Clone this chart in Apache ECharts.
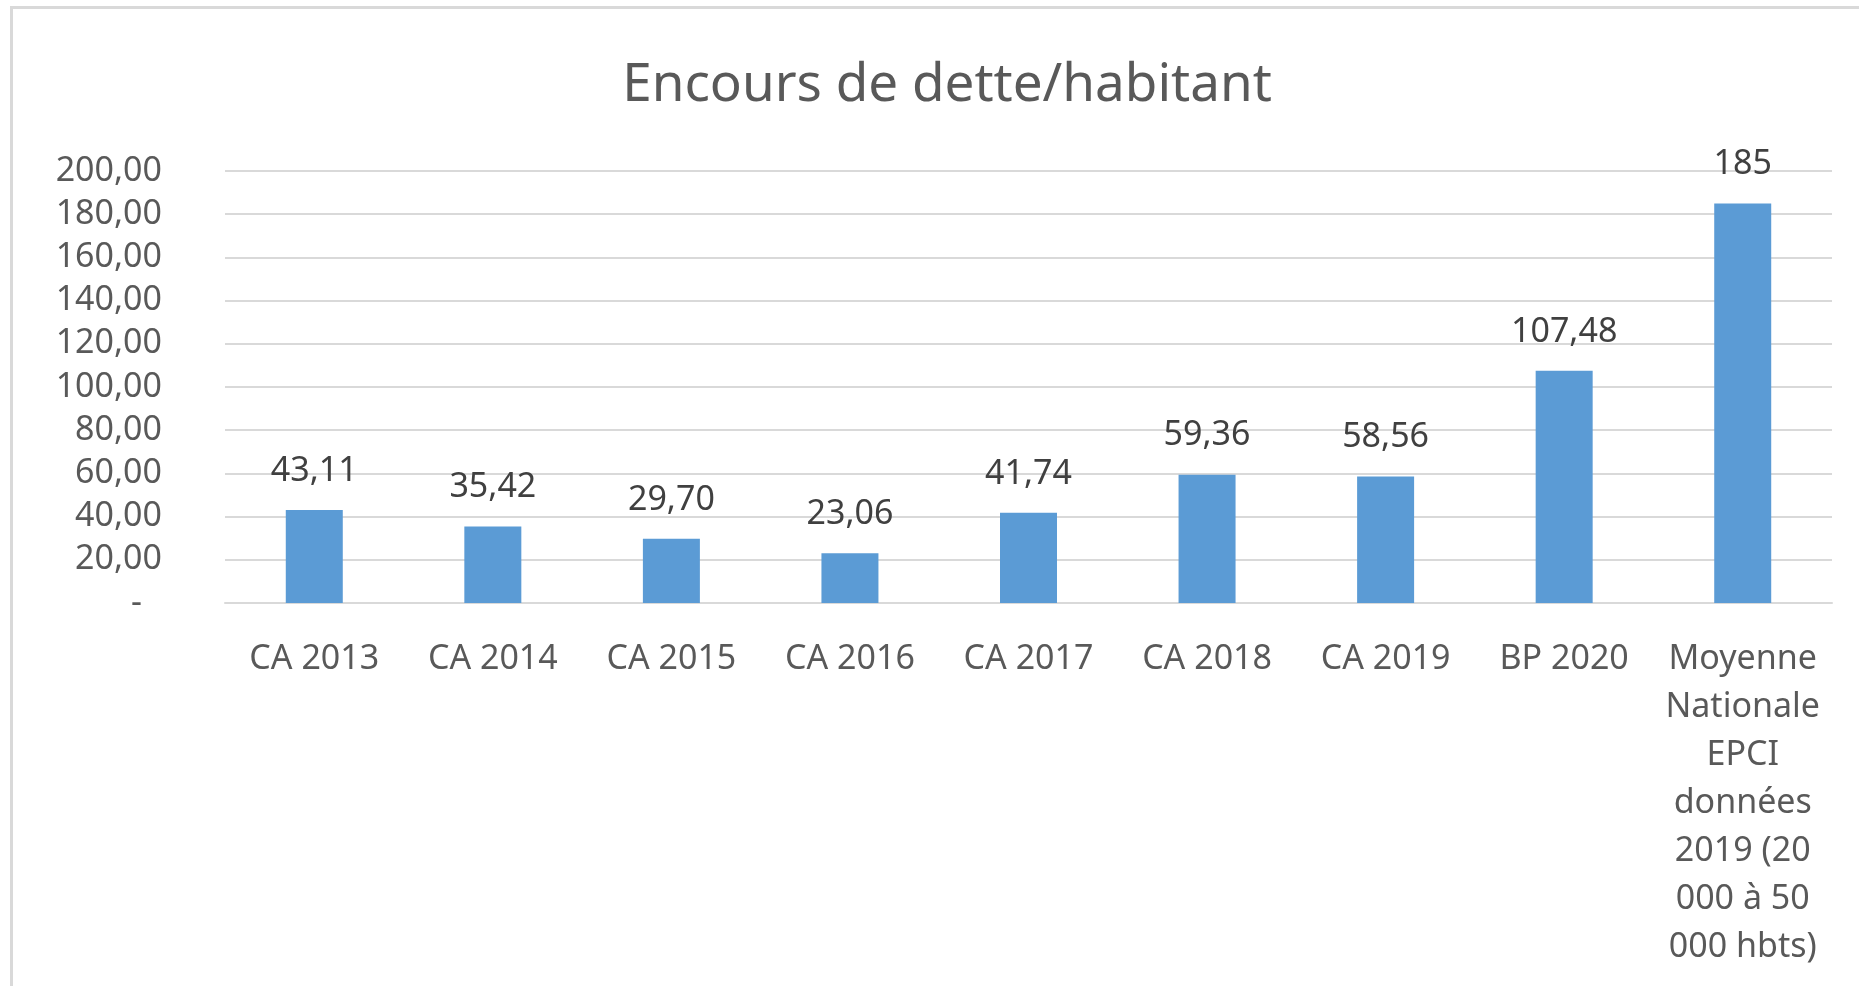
<!DOCTYPE html>
<html>
<head>
<meta charset="utf-8">
<script src="https://cdn.jsdelivr.net/npm/echarts@6/dist/echarts.min.js"></script>
<style>
  html, body { margin: 0; padding: 0; background: #fff; overflow: hidden; }
  #frame { position: absolute; left: 10px; top: 6px; width: 1900px; height: 1000px; border: 3px solid #d9d9d9; }
  #main { position: absolute; left: 0; top: 0; width: 1859px; height: 986px; }
</style>
</head>
<body>
<div id="frame"></div>
<div id="main"></div>
<script>
// categories (x axis)
var categories = ['CA 2013', 'CA 2014', 'CA 2015', 'CA 2016', 'CA 2017', 'CA 2018', 'CA 2019', 'BP 2020',
  'Moyenne\nNationale\nEPCI\ndonnées\n2019 (20\n000 à 50\n000 hbts)'];
// encours de dette par habitant
var encours = [43.11, 35.42, 29.70, 23.06, 41.74, 59.36, 58.56, 107.48, 185];

var chartTitle = 'Encours de dette/habitant';
var police = '"Noto Sans", sans-serif';

// format français : 43,11 / 185 / - pour zéro
function fr(v) {
  if (Number.isInteger(v)) return String(v);
  return v.toFixed(2).replace('.', ',');
}

var myChart = echarts.init(document.getElementById('main'));
var option = {
  backgroundColor: 'transparent',
  animation: false,
  title: {
    text: chartTitle,
    left: 942,
    top: 54,
    textAlign: 'center',
    textStyle: { fontFamily: police, fontSize: 53, fontWeight: 'normal', color: '#595959' }
  },
  grid: { left: 225, right: 27, top: 171, bottom: 383 },
  xAxis: {
    type: 'category',
    data: categories,
    axisLine: { lineStyle: { color: '#d9d9d9', width: 2 } },
    axisTick: { show: false },
    axisLabel: {
      interval: 0,
      margin: 32,
      fontFamily: police,
      fontSize: 34,
      lineHeight: 48,
      color: '#595959'
    }
  },
  yAxis: {
    type: 'value',
    min: 0,
    max: 200,
    interval: 20,
    axisLine: { show: false },
    axisTick: { show: false },
    splitLine: { lineStyle: { color: '#d9d9d9', width: 2 } },
    axisLabel: {
      margin: 63,
      fontFamily: police,
      fontSize: 34,
      color: '#595959',
      formatter: function (v) {
        if (v === 0) return '{z|-}';
        return v.toFixed(2).replace('.', ',');
      },
      rich: {
        z: { fontFamily: police, fontSize: 34, color: '#595959', padding: [0, 20, 0, 0] }
      }
    }
  },
  series: [{
    type: 'bar',
    data: encours,
    barWidth: 57,
    itemStyle: { color: '#5b9bd5' },
    label: {
      show: true,
      position: 'top',
      distance: 22,
      fontFamily: police,
      fontSize: 34,
      color: '#404040',
      formatter: function (p) { return fr(p.value); }
    }
  }]
};
myChart.setOption(option);
</script>
</body>
</html>
